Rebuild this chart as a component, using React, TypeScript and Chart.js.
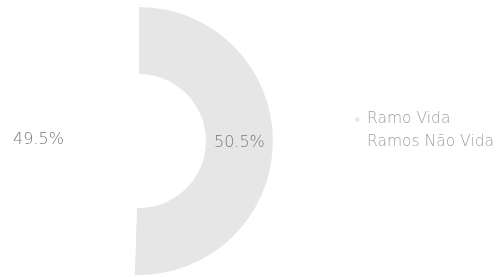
import React, { useEffect, useRef } from "react";
import { Chart, registerables } from "chart.js";

Chart.register(...registerables);

const categories = ["Ramo Vida", "Ramos Não Vida"];
const shares = [50.5, 49.5];

const FONT = "'DejaVu Sans', sans-serif";

const sliceLabelPlugin = {
  id: "sliceLabels",
  afterDatasetsDraw(chart: any) {
    const ctx = chart.ctx;
    const meta = chart.getDatasetMeta(0);
    ctx.save();
    ctx.font = `200 16px ${FONT}`;
    ctx.fillStyle = "#7a7a7a";
    ctx.textAlign = "center";
    ctx.textBaseline = "middle";
    meta.data.forEach((arc: any, i: number) => {
      const p = arc.tooltipPosition();
      const v = chart.data.datasets[0].data[i];
      ctx.fillText(`${v.toFixed(1)}%`, p.x, p.y);
    });
    ctx.restore();
  },
};

export default function App() {
  const ref = useRef<HTMLCanvasElement | null>(null);
  useEffect(() => {
    if (!ref.current) return;
    const chart = new Chart(ref.current, {
      type: "doughnut",
      data: {
        labels: categories,
        datasets: [
          {
            data: shares,
            backgroundColor: ["#e6e6e6", "#ffffff"],
            borderWidth: 0,
          },
        ],
      },
      options: {
        animation: false,
        responsive: true,
        maintainAspectRatio: false,
        cutout: "50%",
        layout: { padding: { left: 0, right: 0, top: 7, bottom: 2 } },
        plugins: {
          tooltip: { enabled: false },
          legend: {
            position: "right",
            align: "start",
            title: {
              display: true,
              text: " ",
              font: { size: 1 },
              padding: { top: 96, bottom: 0 },
            },
            labels: {
              boxWidth: 4,
              boxHeight: 4,
              padding: 7.5,
              color: "#a0a0a0",
              font: { family: FONT, size: 15.5, weight: "200" as any },
            },
          },
        },
      },
      plugins: [sliceLabelPlugin],
    });
    return () => chart.destroy();
  }, []);
  return (
    <div style={{ position: "fixed", left: -70, top: 0, width: 574, height: 277, background: "#fff" }}>
      <canvas ref={ref} />
    </div>
  );
}
